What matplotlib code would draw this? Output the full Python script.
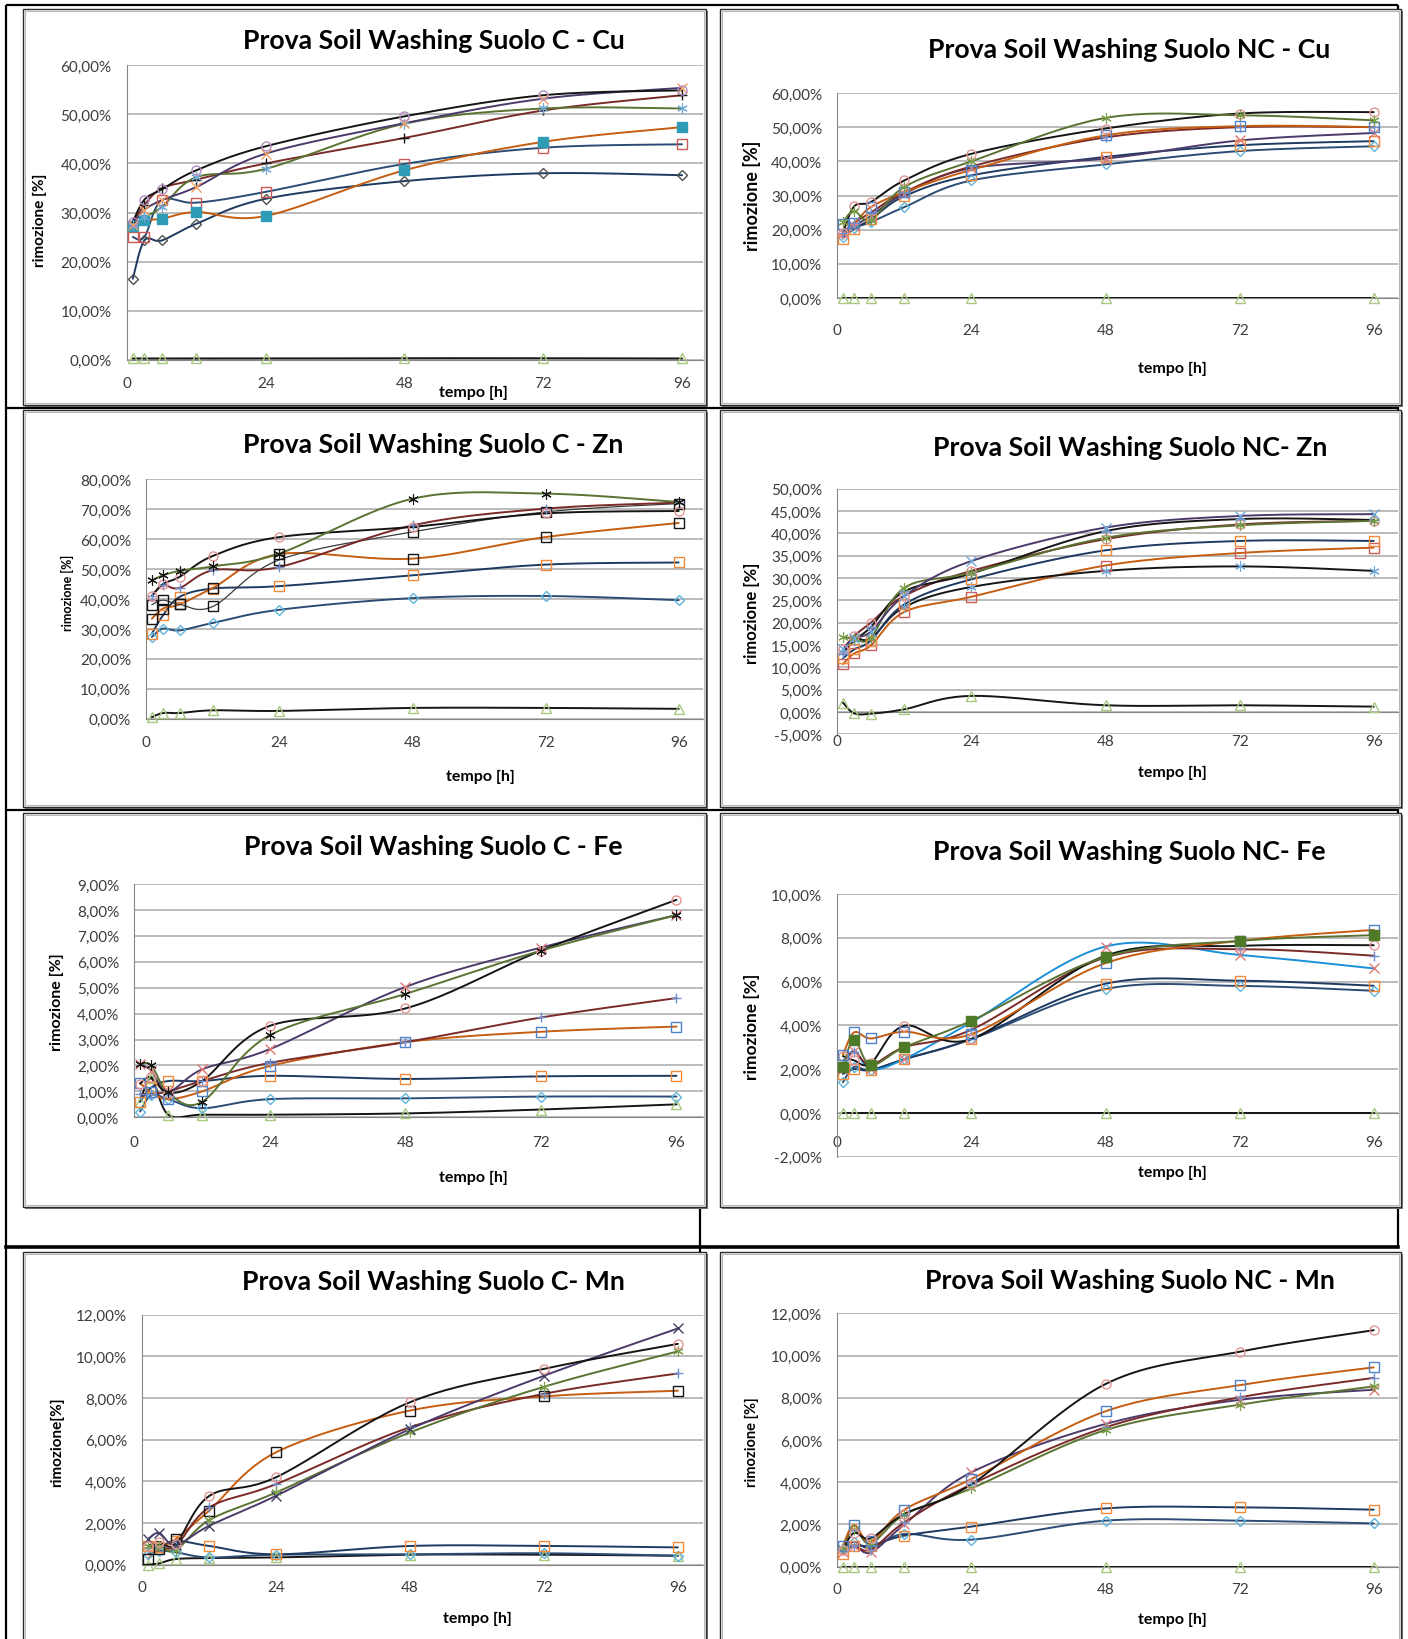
import numpy as np
import matplotlib
matplotlib.use('Agg')
import matplotlib.pyplot as plt
from matplotlib.patches import Rectangle
from matplotlib.ticker import FuncFormatter

plt.rcParams['font.family'] = ['Lato', 'DejaVu Sans']

# ---------------- data (rimozione %, sampled at the hours below) ----------------
hours = [1, 3, 6, 12, 24, 48, 72, 96]
xtick_vals = [0, 24, 48, 72, 96]

# Suolo C - Cu
cu_c_tri = [0.25, 0.25, 0.25, 0.25, 0.25, 0.3, 0.3, 0.25]
cu_c_diam = [16.5, 24.3, 24.3, 27.7, 32.8, 36.4, 38.0, 37.6]
cu_c_sq = [25.0, 25.0, 32.5, 32.0, 34.2, 39.9, 43.2, 43.9]
cu_c_fsq = [27.2, 28.4, 28.7, 30.1, 29.3, 38.6, 44.4, 47.4]
cu_c_circ = [28.1, 32.6, 34.7, 38.6, 43.5, 49.6, 53.9, 54.9]
cu_c_x = [27.5, 30.5, 32.5, 35.2, 42.0, 48.2, 53.2, 55.4]
cu_c_ast = [27.5, 29.0, 31.1, 37.2, 38.9, 48.1, 51.2, 51.2]
cu_c_plus = [28.0, 31.5, 34.9, 36.7, 40.0, 45.2, 50.8, 53.9]

# Suolo NC - Cu
cu_nc_tri = [0.0, 0.0, 0.0, 0.0, 0.0, 0.0, 0.0, 0.0]
cu_nc_diam = [17.9, 20.5, 22.2, 26.6, 34.4, 39.1, 43.0, 44.4]
cu_nc_sq = [17.4, 20.3, 23.0, 29.8, 35.9, 41.3, 44.7, 45.9]
cu_nc_x = [19.0, 21.0, 24.0, 30.5, 38.0, 40.8, 46.1, 48.3]
cu_nc_bsq = [21.8, 22.0, 26.6, 31.0, 37.5, 47.6, 50.3, 50.0]
cu_nc_plus = [19.0, 22.0, 25.0, 31.0, 38.5, 47.0, 50.0, 50.0]
cu_nc_circ = [19.0, 26.8, 28.1, 34.4, 42.2, 49.6, 54.0, 54.4]
cu_nc_ast = [22.2, 25.5, 22.7, 32.5, 40.0, 52.7, 53.5, 52.0]

# Suolo C - Zn
zn_c_tri = [0.5, 1.9, 1.9, 2.8, 2.6, 3.6, 3.6, 3.3]
zn_c_diam = [27.3, 30.1, 29.5, 32.0, 36.4, 40.3, 41.0, 39.6]
zn_c_osq = [28.4, 34.5, 40.7, 43.5, 44.3, 47.9, 51.5, 52.2]
zn_c_ksq1 = [33.4, 36.8, 38.2, 43.7, 55.0, 53.5, 60.7, 65.4]
zn_c_ksq2 = [38.1, 39.6, 38.2, 37.5, 53.1, 62.4, 69.1, 71.9]
zn_c_circ = [41.0, 45.0, 47.4, 54.4, 60.7, 64.1, 68.6, 69.4]
zn_c_plus = [41.0, 44.6, 43.7, 49.6, 50.7, 64.6, 70.2, 72.2]
zn_c_ast = [46.2, 47.9, 49.4, 50.9, 55.2, 73.5, 75.2, 72.4]

# Suolo NC - Zn
zn_nc_tri = [2.1, -0.3, -0.4, 0.6, 3.6, 1.5, 1.5, 1.2]
zn_nc_ast = [13.5, 16.5, 16.5, 23.5, 28.0, 31.6, 32.6, 31.6]
zn_nc_rsq = [10.7, 13.1, 14.9, 22.4, 25.8, 32.8, 35.6, 36.8]
zn_nc_osq = [12.0, 14.0, 16.0, 24.1, 29.7, 36.2, 38.3, 38.3]
zn_nc_circ = [14.0, 17.0, 20.0, 26.0, 31.6, 38.7, 42.0, 42.8]
zn_nc_gast = [16.8, 16.5, 16.6, 27.8, 31.2, 39.0, 41.8, 42.8]
zn_nc_x = [14.0, 16.5, 18.0, 26.0, 33.8, 41.3, 43.9, 44.3]
zn_nc_plus = [13.0, 16.0, 19.0, 27.0, 31.0, 40.5, 43.2, 43.0]

# Suolo C - Fe
fe_c_tri = [0.6, 1.5, 0.1, 0.1, 0.1, 0.15, 0.3, 0.5]
fe_c_diam = [0.22, 0.86, 0.7, 0.35, 0.7, 0.73, 0.8, 0.8]
fe_c_osq = [0.6, 1.15, 1.4, 1.4, 1.6, 1.48, 1.58, 1.6]
fe_c_bsq = [1.32, 0.96, 0.7, 1.0, 1.98, 2.9, 3.3, 3.5]
fe_c_plus = [0.9, 0.9, 1.0, 1.4, 2.1, 2.9, 3.85, 4.6]
fe_c_x = [2.05, 1.8, 1.0, 1.85, 2.63, 5.03, 6.55, 7.8]
fe_c_circ = [1.3, 1.55, 0.95, 1.4, 3.53, 4.2, 6.43, 8.39]
fe_c_ast = [2.05, 2.0, 0.96, 0.6, 3.17, 4.76, 6.43, 7.8]

# Suolo NC - Fe
fe_nc_tri = [0.0, 0.0, 0.0, 0.0, 0.0, 0.0, 0.0, 0.0]
fe_nc_diam = [1.4, 2.1, 1.95, 2.45, 3.37, 5.66, 5.8, 5.58]
fe_nc_osq = [1.78, 2.0, 1.96, 2.46, 3.38, 5.9, 6.04, 5.81]
fe_nc_x = [2.0, 2.85, 2.0, 2.46, 4.14, 7.6, 7.22, 6.6]
fe_nc_plus = [2.3, 2.8, 2.2, 3.0, 3.8, 7.1, 7.48, 7.18]
fe_nc_circ = [2.6, 2.4, 2.27, 3.98, 3.38, 7.18, 7.63, 7.66]
fe_nc_bsq = [2.65, 3.68, 3.4, 3.71, 3.6, 6.84, 7.86, 8.36]
fe_nc_gsq = [2.08, 3.35, 2.19, 3.0, 4.21, 7.13, 7.86, 8.12]

# Suolo C - Mn
mn_c_tri = [0.0, 0.06, 0.27, 0.32, 0.35, 0.48, 0.48, 0.43]
mn_c_diam = [0.5, 0.67, 0.6, 0.35, 0.48, 0.5, 0.55, 0.43]
mn_c_osq = [0.9, 0.83, 1.15, 0.9, 0.5, 0.9, 0.9, 0.83]
mn_c_ksq = [0.27, 0.75, 1.23, 2.6, 5.4, 7.4, 8.08, 8.35]
mn_c_circ = [0.9, 1.1, 1.0, 3.3, 4.2, 7.8, 9.4, 10.6]
mn_c_plus = [0.8, 0.9, 0.9, 2.75, 3.87, 6.6, 8.2, 9.18]
mn_c_ast = [0.9, 0.9, 0.7, 2.14, 3.47, 6.35, 8.54, 10.24]
mn_c_x = [1.23, 1.52, 0.95, 1.87, 3.31, 6.51, 9.07, 11.34]

# Suolo NC - Mn
mn_nc_tri = [0.0, 0.0, 0.0, 0.0, 0.0, 0.0, 0.0, 0.0]
mn_nc_diam = [0.84, 1.18, 0.88, 1.55, 1.28, 2.18, 2.18, 2.05]
mn_nc_osq = [0.6, 1.0, 1.0, 1.47, 1.9, 2.76, 2.81, 2.7]
mn_nc_circ = [0.8, 1.6, 1.35, 2.5, 3.9, 8.65, 10.18, 11.2]
mn_nc_bsq = [1.0, 1.97, 1.2, 2.7, 4.15, 7.36, 8.6, 9.44]
mn_nc_plus = [0.8, 1.0, 0.8, 2.1, 3.9, 6.6, 8.02, 8.94]
mn_nc_x = [0.7, 1.0, 0.68, 2.0, 4.47, 6.76, 7.9, 8.38]
mn_nc_ast = [0.9, 1.8, 1.1, 2.46, 3.71, 6.47, 7.67, 8.54]

# ---------------- styles ----------------
NAVY = '#1f3a60'
NAVY2 = '#2b4c74'
ORANGE = '#c65d10'
BROWN = '#7a2a28'
PURPLE = '#4b3a6b'
GREEN = '#5b7332'
BLACK = '#151515'
SKY = '#1a90d8'
GRAYL = '#3a3a3a'

MK = {'D': ('D', 5.0, 1.0), 's': ('s', 6.5, 1.0), '^': ('^', 6.5, 1.0), 'x': ('x', 6.5, 1.0),
      '*': ((6, 2, 0), 7.5, 0.8), 'o': ('o', 6.5, 1.0), '+': ('+', 7.5, 1.0)}

C_DIAM = '#5fb4dc'
C_SQR = '#cc5a57'
C_SQO = '#f28a3a'
C_SQB = '#4f81c8'
C_TRI = '#a8c880'
C_X = '#e07a78'
C_AST = '#70a8d8'
C_ASTG = '#7a9f48'
C_CIRC = '#e39595'
C_PLUS = '#6f8fd0'


def S(vals, mk, mc, lc, filled=False, lw=1.4):
    return dict(vals=vals, mk=mk, mc=mc, lc=lc, filled=filled, lw=lw)


TFS = 19.2
panels = [
    dict(title='Prova Soil Washing Suolo C - Cu', frame=(23, 10, 706, 406),
         L=127, x96=682, T=66.3, B=360.7, ylim=(0, 60), step=10, xpad=12,
         tpos=(434, 41), xl=(473, 393), yl=(40, 220, 11, 'rimozione [%]'),
         series=[S(cu_c_tri, '^', C_TRI, BLACK), S(cu_c_diam, 'D', '#505050', NAVY),
                 S(cu_c_sq, 's', C_SQR, NAVY2), S(cu_c_fsq, 's', '#2e9cb4', ORANGE, True),
                 S(cu_c_plus, '+', BLACK, BROWN), S(cu_c_ast, '*', C_AST, GREEN),
                 S(cu_c_x, 'x', '#f0a060', PURPLE), S(cu_c_circ, 'o', '#b08cc0', BLACK)]),
    dict(title='Prova Soil Washing Suolo NC - Cu', frame=(720, 10, 1401, 406),
         L=837.3, x96=1373.7, T=94, B=299, ylim=(0, 60), step=10, xpad=18,
         tpos=(1129.5, 49.7), xl=(1172.6, 369), yl=(752.4, 196, 13, 'rimozione [%]'),
         series=[S(cu_nc_tri, '^', C_TRI, BLACK), S(cu_nc_diam, 'D', C_DIAM, NAVY2),
                 S(cu_nc_sq, 's', C_SQO, NAVY), S(cu_nc_x, 'x', C_X, PURPLE),
                 S(cu_nc_plus, '+', C_PLUS, BROWN), S(cu_nc_bsq, 's', C_SQB, ORANGE),
                 S(cu_nc_circ, 'o', C_CIRC, BLACK), S(cu_nc_ast, '*', C_ASTG, GREEN)]),
    dict(title='Prova Soil Washing Suolo C - Zn', frame=(23, 411, 706, 808),
         L=146.3, x96=678.7, T=480.3, B=719.7, ylim=(0, 80), step=10, xpad=12,
         tpos=(433.6, 444.7), xl=(480, 777), yl=(67.5, 593, 9, 'rimozione [%]'),
         series=[S(zn_c_tri, '^', C_TRI, BLACK), S(zn_c_diam, 'D', C_DIAM, NAVY2),
                 S(zn_c_osq, 's', C_SQO, NAVY), S(zn_c_ksq1, 's', BLACK, ORANGE),
                 S(zn_c_ksq2, 's', BLACK, GRAYL, lw=0.9), S(zn_c_plus, '+', C_PLUS, BROWN),
                 S(zn_c_circ, 'o', C_CIRC, BLACK), S(zn_c_ast, '*', BLACK, GREEN)]),
    dict(title='Prova Soil Washing Suolo NC- Zn', frame=(720, 411, 1401, 808),
         L=837.3, x96=1373.7, T=489.7, B=735.3, ylim=(-5, 50), step=5, xpad=16,
         tpos=(1129.7, 448), xl=(1172.6, 773), yl=(752, 613, 12, 'rimozione [%]'),
         series=[S(zn_nc_tri, '^', C_TRI, BLACK), S(zn_nc_rsq, 's', C_SQR, ORANGE),
                 S(zn_nc_ast, '*', C_AST, BLACK), S(zn_nc_osq, 's', C_SQO, NAVY),
                 S(zn_nc_circ, 'o', C_CIRC, BROWN), S(zn_nc_plus, '+', C_PLUS, BLACK),
                 S(zn_nc_gast, '*', C_ASTG, GREEN), S(zn_nc_x, 'x', C_AST, PURPLE)]),
    dict(title='Prova Soil Washing Suolo C - Fe', frame=(23, 814, 706, 1208),
         L=134.4, x96=676.5, T=885, B=1118.3, ylim=(0, 9), step=1, xpad=13,
         tpos=(433.6, 846.7), xl=(473, 1178), yl=(57.4, 1001.7, 11.5, 'rimozione [%]'),
         series=[S(fe_c_tri, '^', C_TRI, BLACK), S(fe_c_diam, 'D', C_DIAM, NAVY2),
                 S(fe_c_osq, 's', C_SQO, NAVY), S(fe_c_bsq, 's', C_SQB, ORANGE),
                 S(fe_c_plus, '+', C_PLUS, BROWN), S(fe_c_x, 'x', C_X, PURPLE),
                 S(fe_c_circ, 'o', C_CIRC, BLACK), S(fe_c_ast, '*', BLACK, GREEN)]),
    dict(title='Prova Soil Washing Suolo NC- Fe', frame=(720, 814, 1401, 1208),
         L=837.3, x96=1373.7, T=895, B=1157.7, ylim=(-2, 10), step=2, xpad=16,
         tpos=(1129.7, 851.7), xl=(1172.6, 1172.7), yl=(752.4, 1026.7, 12.5, 'rimozione [%]'),
         series=[S(fe_nc_tri, '^', C_TRI, BLACK), S(fe_nc_diam, 'D', C_DIAM, NAVY2),
                 S(fe_nc_osq, 's', C_SQO, NAVY), S(fe_nc_x, 'x', C_X, SKY),
                 S(fe_nc_plus, '+', C_PLUS, BROWN), S(fe_nc_circ, 'o', C_CIRC, BLACK),
                 S(fe_nc_bsq, 's', C_SQB, ORANGE), S(fe_nc_gsq, 's', '#4f7a28', GREEN, True)]),
    dict(title='Prova Soil Washing Suolo C- Mn', frame=(23, 1253, 706, 1660),
         L=142.3, x96=677.9, T=1315.7, B=1565.7, ylim=(0, 12), step=2, xpad=11,
         tpos=(433.9, 1281.7), xl=(477.6, 1619), yl=(57.4, 1441.7, 11, 'rimozione[%]'),
         series=[S(mn_c_tri, '^', C_TRI, BLACK), S(mn_c_diam, 'D', C_DIAM, NAVY2),
                 S(mn_c_osq, 's', C_SQO, NAVY), S(mn_c_ksq, 's', BLACK, ORANGE),
                 S(mn_c_plus, '+', C_PLUS, BROWN), S(mn_c_ast, '*', C_ASTG, GREEN),
                 S(mn_c_x, 'x', '#404060', PURPLE), S(mn_c_circ, 'o', C_CIRC, BLACK)]),
    dict(title='Prova Soil Washing Suolo NC - Mn', frame=(720, 1253, 1401, 1660),
         L=837.3, x96=1373.7, T=1314.3, B=1567.7, ylim=(0, 12), step=2, xpad=11,
         tpos=(1129.8, 1281), xl=(1172.6, 1620), yl=(752.4, 1441.7, 10.5, 'rimozione [%]'),
         series=[S(mn_nc_tri, '^', C_TRI, BLACK), S(mn_nc_diam, 'D', C_DIAM, NAVY2),
                 S(mn_nc_osq, 's', C_SQO, NAVY), S(mn_nc_x, 'x', C_X, PURPLE),
                 S(mn_nc_plus, '+', C_PLUS, BROWN), S(mn_nc_ast, '*', C_ASTG, GREEN),
                 S(mn_nc_bsq, 's', C_SQB, ORANGE), S(mn_nc_circ, 'o', C_CIRC, BLACK)]),
]


def smooth(x, y, n=24):
    P = np.column_stack([np.asarray(x, float), np.asarray(y, float)])
    ext = np.vstack([P[0], P, P[-1]])
    t = np.linspace(0, 1, n)[1:, None]
    out = [P[:1]]
    for i in range(len(P) - 1):
        p0, p1, p2, p3 = ext[i], ext[i + 1], ext[i + 2], ext[i + 3]
        c1 = p1 + (p2 - p0) / 6.0
        c2 = p2 - (p3 - p1) / 6.0
        seg = ((1 - t) ** 3) * p1 + 3 * ((1 - t) ** 2) * t * c1 + 3 * (1 - t) * t ** 2 * c2 + t ** 3 * p2
        out.append(seg)
    Q = np.vstack(out)
    return Q[:, 0], Q[:, 1]


W, H = 1408, 1640
fig = plt.figure(figsize=(W / 100, H / 100), dpi=100)
bg = fig.add_axes([0, 0, 1, 1])
bg.set_xlim(0, W)
bg.set_ylim(H, 0)
bg.axis('off')

# table grid
tl = dict(color='black', lw=1.6, solid_capstyle='butt', zorder=1)
bg.plot([6, 6], [6, H], **tl)
bg.plot([6, 1398], [6, 6], **tl)
bg.plot([1398, 1398], [6, 1248], **tl)
bg.plot([700, 700], [1208, H], **tl)
bg.plot([6, 1398], [408.5, 408.5], **tl)
bg.plot([6, 1398], [811, 811], **tl)
bg.plot([6, 1398], [1248, 1248], color='black', lw=2.6, zorder=1)

pct = FuncFormatter(lambda v, p: ('%.2f%%' % v).replace('.', ','))

for p in panels:
    x0, y0, x1, y1 = p['frame']
    bg.add_patch(Rectangle((x0 + 2, y0 + 2), x1 - x0, y1 - y0, fc='#7a7a7a', ec='none', zorder=2))
    bg.add_patch(Rectangle((x0, y0), x1 - x0, y1 - y0, fc='white', ec='#2a2a2a', lw=1.0, zorder=3))
    bg.add_patch(Rectangle((x0 + 2, y0 + 2), x1 - x0 - 4, y1 - y0 - 4, fc='none', ec='#b8b8b8', lw=0.8, zorder=3))

    tx, ty = p['tpos']
    bg.text(tx, ty, p['title'], ha='center', va='center', fontsize=TFS, fontweight='bold', color='black', zorder=5)
    bg.text(p['xl'][0], p['xl'][1], 'tempo [h]', ha='center', va='center', fontsize=11.5,
            fontweight='bold', color='black', zorder=5)
    yx, yy, yfs, ytxt = p['yl']
    bg.text(yx, yy, ytxt, ha='center', va='center', rotation=90, fontsize=yfs,
            fontweight='bold', color='black', zorder=5)

    L, R = p['L'], x1 - 3
    T, B = p['T'], p['B']
    ax = fig.add_axes([L / W, 1 - B / H, (R - L) / W, (B - T) / H])
    ax.set_facecolor('none')
    xmax = 96.0 * (R - L) / (p['x96'] - L)
    ax.set_xlim(0, xmax)
    ymin, ymax = p['ylim']
    ax.set_ylim(ymin, ymax)
    ax.set_yticks(np.arange(ymin, ymax + p['step'] / 2.0, p['step']))
    ax.set_xticks(xtick_vals)
    ax.yaxis.set_major_formatter(pct)
    ax.yaxis.grid(True, color='#a8a8a8', lw=1.1)
    ax.set_axisbelow(True)
    for s in ('top', 'right'):
        ax.spines[s].set_visible(False)
    ax.spines['left'].set_color('#868686')
    ax.spines['bottom'].set_color('#868686')
    ax.spines['bottom'].set_position(('data', 0))
    ax.tick_params(axis='y', length=0, pad=11, labelsize=11, labelcolor='#3c3c3c')
    ax.tick_params(axis='x', length=0, pad=p['xpad'], labelsize=11, labelcolor='#3c3c3c')

    for s in p['series']:
        xs, ys = smooth(hours, s['vals'])
        ax.plot(xs, ys, color=s['lc'], lw=s['lw'], zorder=3, solid_capstyle='round')
        m, ms, mew = MK[s['mk']]
        ax.plot(hours, s['vals'], ls='none', marker=m, ms=ms,
                mfc=(s['mc'] if s['filled'] else 'none'), mec=s['mc'], mew=mew,
                zorder=4, clip_on=False)

fig.savefig('out.png', dpi=100)
